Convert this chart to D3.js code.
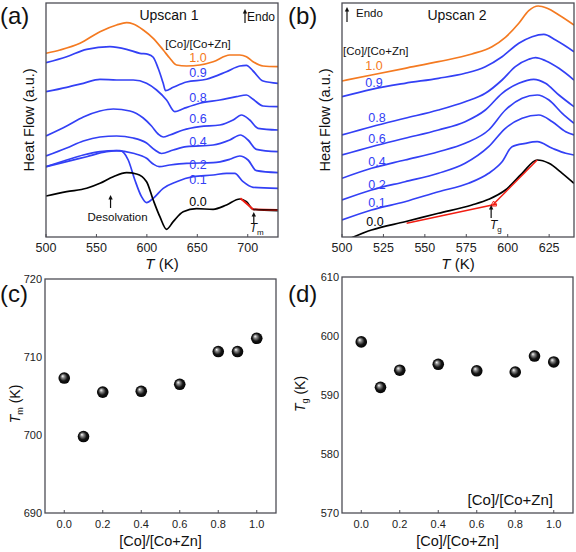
<!DOCTYPE html>
<html><head><meta charset="utf-8">
<script src="https://cdn.jsdelivr.net/npm/d3@7"></script>
<style>body{margin:0;background:#fff}svg{display:block;font-family:"Liberation Sans",Arial,sans-serif}</style>
</head><body><svg id="c" width="576" height="552"></svg>
<script>
// ---------- Panel (a): Upscan 1 (T in K, heat flow in a.u.) ----------
const a_10 = [[500,183.7],[513.9,187],[533.7,193.7],[553.5,205.3],[570,212],[579.9,214.3],[586.5,213],[596.4,207],[606.3,198.7],[616.2,187],[622.8,178.7],[629.4,172],[639.3,171],[652.5,172],[665.7,175.3],[682.2,182],[692.1,182],[698.7,180.3],[705.3,175.3],[715.2,171],[730,170.3]];
const a_09 = [[500,174.3],[520.5,180.3],[540.3,187.7],[563.4,190.3],[579.9,187.7],[593.1,183.7],[601.3,182.7],[606.3,179.7],[611.2,168.7],[616.2,153.7],[618.5,146.3],[626.1,149.7],[639.3,155],[659.1,157.7],[678.9,165.3],[692.1,171],[698.7,171.7],[705.3,166],[715.2,156],[730,153.7]];
const a_08 = [[500,145.3],[520.5,149.7],[537,153.7],[553.5,157.7],[570,157],[586.5,157],[599.7,153.7],[609.6,147],[619.5,137],[627.7,125.3],[636,128.3],[652.5,133.7],[672.3,137],[688.8,140.3],[698.7,142],[705.3,137.7],[715.2,131],[730,130.3]];
const a_06 = [[500,101],[520.5,111],[537,120],[553.5,126],[566.7,128],[583.2,126],[596.4,119],[604.6,111],[611.2,103],[616.2,100],[622.8,102],[636,107],[652.5,110.3],[672.3,112],[685.5,117],[693.7,122],[702,117],[710.2,108.7],[730,107]];
const a_04 = [[500,81],[520.5,89],[537,96],[553.5,100],[570,101],[586.5,99],[599.7,94],[608,87],[614.5,83.5],[626.1,87],[639.3,90.3],[665.7,92],[682.2,97],[692.7,102],[700.3,97],[708.6,87.7],[730,85.3]];
const a_02 = [[500,70.3],[520.5,77],[537,82],[553.5,85.3],[570,86.3],[586.5,83.7],[599.7,78.7],[606.3,73],[612.2,70.3],[622.8,72],[639.3,73.7],[665.7,74.3],[682.2,77.7],[692.1,81],[700.3,77],[708.6,66.3],[730,64.3]];
const a_01 = [[500,70.3],[520.5,75.3],[540.3,80.3],[560.1,85.3],[573.3,86.3],[581.5,77],[588.1,57],[594.7,40.3],[599.7,34.3],[606.3,38.7],[616.2,48.7],[629.4,55.3],[645.9,60.3],[665.7,62],[678.9,63.7],[687.1,63.7],[695.4,55.3],[705.3,49.7],[730,48.7]];
const a_00 = [[500,41],[520.5,45.3],[540.3,48.7],[553.5,53.7],[566.7,60.3],[579.9,64.3],[589.8,63],[599.7,55.3],[606.3,37],[612.9,20.3],[619.5,7.7],[626.1,15.3],[636,25.3],[649.2,28.3],[665.7,27.7],[678.9,32],[692.1,38],[698.7,35.3],[705.3,27.7],[730,26.3]];
const a_fit = [[692.7,38.7],[705.3,27.7],[730,27.2]];
const a_labels = ["1.0","0.9","0.8","0.6","0.4","0.2","0.1","0.0"];
const a_labelY = [175,160.5,135,114,91,68,53,31];

// ---------- Panel (b): Upscan 2 ----------
const b_10 = [[500,156],[517.8,162],[538,168.7],[558.2,175.3],[578.4,183],[590.5,190.3],[598.6,199.7],[606.7,213.7],[612.7,226.3],[618.4,231],[623.8,228.7],[630.9,222],[640,212]];
const b_09 = [[500,140.3],[517.8,147.7],[538,153.7],[558.2,158.7],[574.3,163.7],[586.5,170.3],[596.6,180.3],[606.7,193.7],[614.7,200.3],[621.8,202.7],[628.9,197],[640,185.3]];
const b_08 = [[500,102],[517.8,110.3],[538,118.7],[558.2,127],[574.3,135.3],[586.5,143.7],[596.6,157],[604.6,170.3],[612.7,177.7],[616.8,179.3],[622.8,176.3],[630.9,168.7],[640,157]];
const b_06 = [[500,82],[517.8,90.3],[538,98.7],[558.2,107],[574.3,115.3],[586.5,127],[596.6,143.7],[606.7,153.7],[615.7,157.7],[622.8,153.7],[630.9,142],[640,130.3]];
const b_04 = [[500,58.7],[517.8,68.7],[538,77],[558.2,85.3],[574.3,93.7],[588.5,107],[598.6,127],[608.7,138.7],[617.8,142],[624.9,137],[632.9,123.7],[640,113.7]];
const b_02 = [[500,37],[517.8,47],[538,55.3],[558.2,63.7],[574.3,73.7],[588.5,90.3],[598.6,108.7],[608.7,118.7],[618.8,122],[626.9,115.3],[635,105.3],[640,102]];
const b_01 = [[500,17],[517.8,27],[538,35.3],[558.2,45.3],[576.4,53.7],[588.5,63.7],[596.6,75.3],[602.6,90.3],[610.7,93.7],[617.8,95.3],[626.9,88.7],[635,83.7],[640,82]];
const b_00 = [[503.6,-2.3],[517.8,7],[538,15.3],[558.2,23.7],[578.4,32],[588.5,37.7],[598.6,47],[608.7,63.7],[617.8,77],[624.9,73.7],[632.9,63.7],[640,53.7]];
const b_fit1 = [[539,13.7],[593.5,33]];
const b_fit2 = [[591.5,33],[617.8,77]];
const b_labels = ["1.0","0.9","0.8","0.6","0.4","0.2","0.1","0.0"];
const b_labelY = [167,150,115,94,71,48,30,11];

// ---------- Panels (c),(d) ----------
const ratio = [0.0,0.1,0.2,0.4,0.6,0.8,0.9,1.0];
const Tm = [707.3,699.8,705.5,705.6,706.5,710.7,710.7,712.4];
const Tg = [599.0,591.3,594.2,595.2,594.1,593.9,596.6,595.6];
const ticksA = [500,550,600,650,700];
const ticksB = [500,525,550,575,600,625];
const ticksR = [0,0.2,0.4,0.6,0.8,1.0];
const ticksTm = [690,700,710,720];
const ticksTg = [570,580,590,600,610];

const BLUE = "#3340f5", ORANGE = "#f47a21", RED = "#f21d12", AX = "#4d4d55";
const svg = d3.select("#c");
const defs = svg.append("defs");
const grad = defs.append("radialGradient").attr("id","ball").attr("cx","50%").attr("cy","50%").attr("r","55%").attr("fx","35%").attr("fy","32%");
grad.append("stop").attr("offset","0%").attr("stop-color","#ffffff");
grad.append("stop").attr("offset","25%").attr("stop-color","#8a8a8a");
grad.append("stop").attr("offset","60%").attr("stop-color","#151515");
grad.append("stop").attr("offset","100%").attr("stop-color","#000");

function frame(g, x, y) {
  const [x0,x1] = x.range(), [y0,y1] = y.range();
  g.append("rect").attr("x",x0).attr("y",y1).attr("width",x1-x0).attr("height",y0-y1)
    .attr("fill","none").attr("stroke",AX).attr("stroke-width",1.3);
}
function xAxis(g, x, y, ticks, fmt, fs, dy) {
  const y0 = y.range()[0];
  ticks.forEach(t => {
    g.append("line").attr("x1",x(t)).attr("x2",x(t)).attr("y1",y0).attr("y2",y0-3).attr("stroke",AX).attr("stroke-width",1);
    g.append("text").attr("x",x(t)).attr("y",y0+dy).attr("text-anchor","middle").attr("font-size",fs).attr("fill","#222").text(fmt(t));
  });
}
function yAxis(g, x, y, ticks, fs) {
  const x0 = x.range()[0];
  ticks.forEach(t => {
    g.append("text").attr("x",x0-3).attr("y",y(t)+4).attr("text-anchor","end").attr("font-size",fs).attr("fill","#222").text(t);
  });
}
function arrowUp(g, xx, yBottom, yTop) {
  g.append("line").attr("x1",xx).attr("x2",xx).attr("y1",yBottom).attr("y2",yTop+3).attr("stroke","#111").attr("stroke-width",1.2);
  g.append("path").attr("d",`M${xx-2.2},${yTop+4.5}L${xx},${yTop}L${xx+2.2},${yTop+4.5}Z`).attr("fill","#111");
}

// ---- Panel a ----
{
  const x = d3.scaleLinear().domain([500,730]).range([46,278]);
  const y = d3.scaleLinear().domain([0,234]).range([237,3]);
  const g = svg.append("g");
  defs.append("clipPath").attr("id","clipA").append("rect").attr("x",46).attr("y",3).attr("width",232).attr("height",234);
  const line = d3.line().x(d=>x(d[0])).y(d=>y(d[1])).curve(d3.curveMonotoneX);
  const pg = g.append("g").attr("clip-path","url(#clipA)");
  const series = [[a_10,ORANGE],[a_09,BLUE],[a_08,BLUE],[a_06,BLUE],[a_04,BLUE],[a_02,BLUE],[a_01,BLUE],[a_00,"#000"]];
  series.forEach(([d,c]) => pg.append("path").attr("d",line(d)).attr("fill","none").attr("stroke",c).attr("stroke-width",1.7));
  pg.append("path").attr("d",d3.line().x(d=>x(d[0])).y(d=>y(d[1]))(a_fit)).attr("fill","none").attr("stroke",RED).attr("stroke-width",1.8);
  pg.append("path").attr("d",d3.line().x(d=>x(d[0])).y(d=>y(d[1]))(a_fit.slice(1))).attr("fill","none").attr("stroke","#000").attr("stroke-width",0.8);
  frame(g,x,y);
  xAxis(g,x,y,ticksA,d=>d,12.5,15);
  a_labels.forEach((l,i)=> g.append("text").attr("x",x(650.7)).attr("y",y(a_labelY[i])).attr("text-anchor","middle").attr("font-size",12.5)
     .attr("fill", i===0?ORANGE:(i===7?"#000":BLUE)).text(l));
  g.append("text").attr("x",x(650.7)).attr("y",48).attr("text-anchor","middle").attr("font-size",11.5).attr("fill","#111").text("[Co]/[Co+Zn]");
  g.append("text").attr("x",169).attr("y",20).attr("text-anchor","middle").attr("font-size",14).attr("fill","#111").text("Upscan 1");
  arrowUp(g, 245, 23, 9);
  g.append("text").attr("x",247).attr("y",21).attr("font-size",12).attr("fill","#111").text("Endo");
  arrowUp(g, x(564), 208, 195);
  g.append("text").attr("x",x(571)).attr("y",221).attr("text-anchor","middle").attr("font-size",11.5).attr("fill","#111").text("Desolvation");
  arrowUp(g, x(706), 224, 212);
  const tm = g.append("text").attr("x",x(702)).attr("y",232).attr("font-size",12).attr("fill","#111");
  tm.append("tspan").attr("font-style","italic").text("T");
  tm.append("tspan").attr("font-size",8).attr("dy",3).text("m");
  g.append("text").attr("transform",`translate(34,${(3+237)/2}) rotate(-90)`).attr("text-anchor","middle").attr("font-size",14.5).attr("fill","#111").text("Heat Flow (a.u.)");
  const tl = g.append("text").attr("x",162).attr("y",269).attr("text-anchor","middle").attr("font-size",15).attr("fill","#111");
  tl.append("tspan").attr("font-style","italic").text("T");
  tl.append("tspan").text(" (K)");
  g.append("text").attr("x",0).attr("y",24).attr("font-size",24).attr("fill","#111").text("(a)");
}

// ---- Panel b ----
{
  const x = d3.scaleLinear().domain([500,640]).range([342,574]);
  const y = d3.scaleLinear().domain([0,234]).range([237,3]);
  const g = svg.append("g");
  defs.append("clipPath").attr("id","clipB").append("rect").attr("x",342).attr("y",3).attr("width",232).attr("height",234);
  const line = d3.line().x(d=>x(d[0])).y(d=>y(d[1])).curve(d3.curveMonotoneX);
  const pg = g.append("g").attr("clip-path","url(#clipB)");
  const series = [[b_10,ORANGE],[b_09,BLUE],[b_08,BLUE],[b_06,BLUE],[b_04,BLUE],[b_02,BLUE],[b_01,BLUE],[b_00,"#000"]];
  series.forEach(([d,c]) => pg.append("path").attr("d",line(d)).attr("fill","none").attr("stroke",c).attr("stroke-width",1.7));
  const sl = d3.line().x(d=>x(d[0])).y(d=>y(d[1]));
  pg.append("path").attr("d",sl(b_fit1)).attr("fill","none").attr("stroke",RED).attr("stroke-width",1.5);
  pg.append("path").attr("d",sl(b_fit2)).attr("fill","none").attr("stroke",RED).attr("stroke-width",1.5);
  pg.append("path").attr("d",`M${x(591.5)-3},${y(33)+2}L${x(591.5)},${y(33)-3}L${x(591.5)+3},${y(33)+2}Z`).attr("fill","none").attr("stroke",RED).attr("stroke-width",1);
  frame(g,x,y);
  xAxis(g,x,y,ticksB,d=>d,12.5,15);
  const lx = [374,374,377,377,377,377,377,375];
  b_labels.forEach((l,i)=> g.append("text").attr("x",lx[i]).attr("y",y(b_labelY[i])).attr("text-anchor","middle").attr("font-size",12.5)
     .attr("fill", i===0?ORANGE:(i===7?"#000":BLUE)).text(l));
  g.append("text").attr("x",343).attr("y",55).attr("font-size",11.5).attr("fill","#111").text("[Co]/[Co+Zn]");
  g.append("text").attr("x",457).attr("y",20).attr("text-anchor","middle").attr("font-size",14).attr("fill","#111").text("Upscan 2");
  arrowUp(g, 347, 22, 7);
  g.append("text").attr("x",356).attr("y",17).attr("font-size",11.5).attr("fill","#111").text("Endo");
  arrowUp(g, x(590), 218, 205);
  const tg = g.append("text").attr("x",x(589.3)).attr("y",229).attr("font-size",12).attr("fill","#111");
  tg.append("tspan").attr("font-style","italic").text("T");
  tg.append("tspan").attr("font-size",8).attr("dy",3).text("g");
  g.append("text").attr("transform",`translate(330,${(3+237)/2}) rotate(-90)`).attr("text-anchor","middle").attr("font-size",14.5).attr("fill","#111").text("Heat Flow (a.u.)");
  const tl = g.append("text").attr("x",458).attr("y",269).attr("text-anchor","middle").attr("font-size",15).attr("fill","#111");
  tl.append("tspan").attr("font-style","italic").text("T");
  tl.append("tspan").text(" (K)");
  g.append("text").attr("x",288).attr("y",24).attr("font-size",24).attr("fill","#111").text("(b)");
}

// ---- Panels c, d ----
function scatter(opts) {
  const x = d3.scaleLinear().domain([-0.1,1.1]).range(opts.xr);
  const y = d3.scaleLinear().domain(opts.yd).range(opts.yr);
  const g = svg.append("g");
  frame(g,x,y);
  xAxis(g,x,y,ticksR,d3.format(".1f"),11,15);
  yAxis(g,x,y,opts.yt,11);
  g.selectAll("circle.pt").data(ratio).join("circle").attr("class","pt")
    .attr("cx",(d)=>x(d)).attr("cy",(d,i)=>y(opts.vals[i])).attr("r",5.8).attr("fill","url(#ball)");
  g.append("text").attr("x",(opts.xr[0]+opts.xr[1])/2).attr("y",546).attr("text-anchor","middle").attr("font-size",14.5).attr("fill","#111").text("[Co]/[Co+Zn]");
  const yl = g.append("text").attr("transform",`translate(${opts.ylx},${opts.yly}) rotate(-90)`).attr("text-anchor","middle").attr("font-size",14).attr("fill","#111");
  yl.append("tspan").attr("font-style","italic").text("T");
  yl.append("tspan").attr("font-size",9).attr("dy",3).text(opts.sub);
  yl.append("tspan").attr("dy",-3).text(" (K)");
  g.append("text").attr("x",opts.px).attr("y",302).attr("font-size",24).attr("fill","#111").text(opts.pl);
  return g;
}
scatter({xr:[45,276],yr:[513,279],yd:[690,720],yt:ticksTm,vals:Tm,sub:"m",ylx:20,yly:404,px:0,pl:"(c)"});
const gd = scatter({xr:[342,573],yr:[513,277],yd:[570,610],yt:ticksTg,vals:Tg,sub:"g",ylx:305,yly:394,px:288,pl:"(d)"});
gd.append("text").attr("x",553).attr("y",505).attr("text-anchor","end").attr("font-size",15).attr("fill","#111").text("[Co]/[Co+Zn]");
</script></body></html>
